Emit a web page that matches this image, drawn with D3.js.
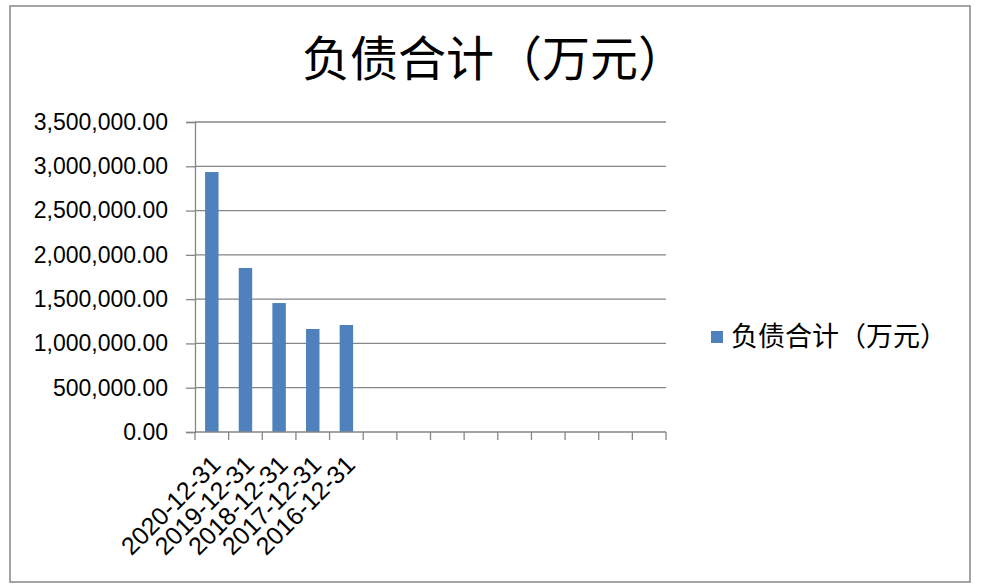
<!DOCTYPE html>
<html>
<head>
<meta charset="utf-8">
<script src="https://cdn.jsdelivr.net/npm/d3@7"></script>
<style>
  body { margin: 0; background: #fff; }
  svg { display: block; }
  .ylab, .xlab { font-family: "Liberation Sans", "DejaVu Sans", sans-serif; font-size: 23px; fill: #000; }
  .xlab { font-size: 25px; }
</style>
</head>
<body>
<svg id="chart" width="981" height="587"></svg>
<script>
const title = "负债合计（万元）";
const seriesName = "负债合计（万元）";
const categories = ["2020-12-31", "2019-12-31", "2018-12-31", "2017-12-31", "2016-12-31"];
const values = [2935000, 1852000, 1456000, 1163000, 1208000];
const slotCount = 14; // the sheet range had empty rows after the data
const yTicks = [0, 500000, 1000000, 1500000, 2000000, 2500000, 3000000, 3500000];

const svg = d3.select("#chart");
const grey = "#868686";

//outer chart border
svg.append("rect")
    .attr("x", 10).attr("y", 6)
    .attr("width", 960).attr("height", 576)
    .attr("fill", "#fff")
    .attr("stroke", grey)
    .attr("stroke-width", 1.5);

svg.append("text")
    .attr("x", 494).attr("y", 76)
    .attr("text-anchor", "middle")
    .style("font-family", "'Noto Sans CJK SC', sans-serif")
    .style("font-size", "48px")
    .text(title);

const plot = {left: 195, right: 666, top: 122, bottom: 432};

const x = d3.scaleBand()
    .domain(d3.range(slotCount))
    .range([plot.left, plot.right])
    .paddingInner(0.6)
    .paddingOuter(0.3);

const xSlot = d3.scaleBand()
    .domain(d3.range(slotCount))
    .range([plot.left, plot.right]);

const y = d3.scaleLinear()
    .domain([0, 3500000])
    .range([plot.bottom, plot.top]);

//gridlines
svg.append("g")
    .selectAll("line")
    .data(yTicks.slice(1))
    .join("line")
    .attr("x1", plot.left).attr("x2", plot.right)
    .attr("y1", d => y(d)).attr("y2", d => y(d))
    .attr("stroke", grey)
    .attr("stroke-width", 1.3);

//y axis
const yAxis = svg.append("g")
    .attr("transform", `translate(${plot.left},0)`)
    .call(d3.axisLeft(y).tickValues(yTicks).tickSize(9).tickPadding(18)
        .tickFormat(d3.format(",.2f")));
yAxis.selectAll("path, line").attr("stroke", grey).attr("stroke-width", 1.3);
yAxis.selectAll("text").attr("class", "ylab").attr("fill", "#000");

//bars
svg.append("g")
    .selectAll("rect")
    .data(values)
    .join("rect")
    .attr("x", (d, i) => x(i))
    .attr("width", x.bandwidth())
    .attr("y", d => y(d))
    .attr("height", d => y(0) - y(d))
    .attr("fill", "#4F81BD");

//x axis with ticks at slot boundaries
const xg = svg.append("g");
xg.append("line")
    .attr("x1", plot.left).attr("x2", plot.right)
    .attr("y1", plot.bottom).attr("y2", plot.bottom)
    .attr("stroke", grey).attr("stroke-width", 1.3);
xg.selectAll(".tick")
    .data(d3.range(slotCount + 1))
    .join("line")
    .attr("x1", d => plot.left + d * xSlot.step())
    .attr("x2", d => plot.left + d * xSlot.step())
    .attr("y1", plot.bottom).attr("y2", plot.bottom + 8)
    .attr("stroke", grey).attr("stroke-width", 1.3);

xg.selectAll(".xlab")
    .data(categories)
    .join("text")
    .attr("class", "xlab")
    .attr("text-anchor", "end")
    .attr("transform", (d, i) => `translate(${xSlot(i) + xSlot.bandwidth() / 2 + 4},${plot.bottom + 28}) rotate(-45)`)
    .attr("dy", "0.35em")
    .text(d => d);

//legend
const legend = svg.append("g").attr("transform", "translate(711,331)");
legend.append("rect")
    .attr("width", 12).attr("height", 12)
    .attr("fill", "#4F81BD");
legend.append("text")
    .attr("x", 20).attr("y", 6)
    .attr("dy", "0.35em")
    .style("font-family", "'Noto Sans CJK SC', sans-serif")
    .style("font-size", "27px")
    .text(seriesName);
</script>
</body>
</html>
